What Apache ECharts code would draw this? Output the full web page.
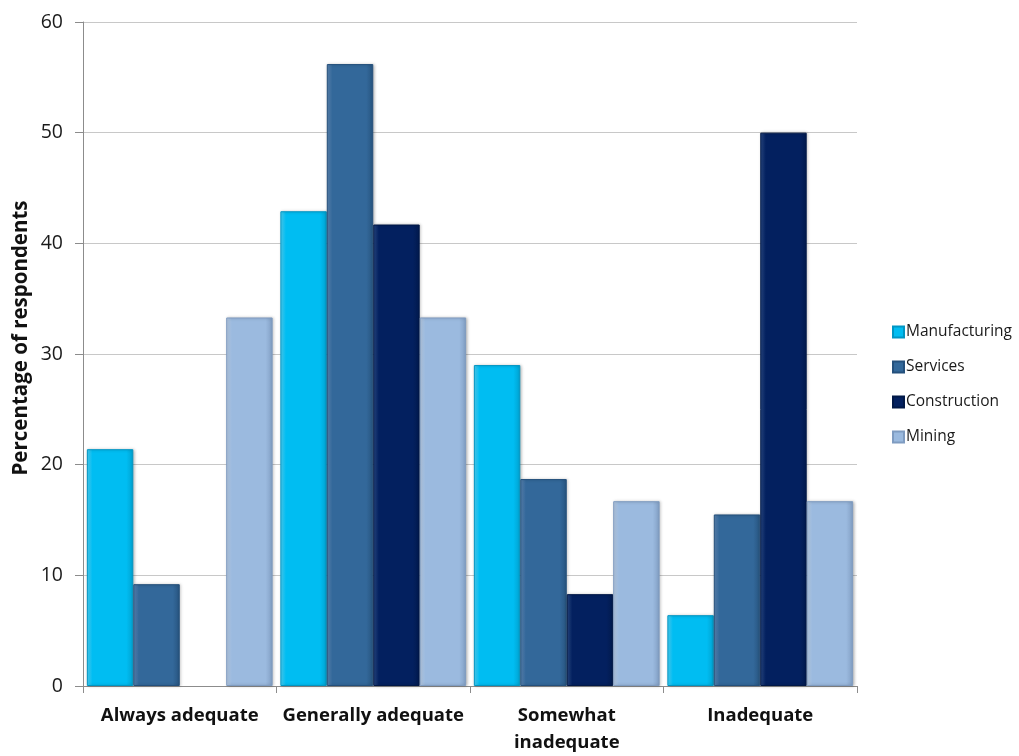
<!DOCTYPE html>
<html>
<head>
<meta charset="utf-8">
<script src="https://cdn.jsdelivr.net/npm/echarts@6/dist/echarts.min.js"></script>
<style>
  html, body { margin: 0; padding: 0; background: #fff; }
  #chart { width: 1019px; height: 756px; }
</style>
</head>
<body>
<div id="chart"></div>
<script>
// Adequacy ratings by industry sector (percentage of respondents)
const categories = ['Always adequate', 'Generally adequate', 'Somewhat\ninadequate', 'Inadequate'];
const manufacturing = [21.4, 42.9, 29.0, 6.4];
const services = [9.2, 56.2, 18.7, 15.5];
const construction = [0, 41.7, 8.3, 50.0];
const mining = [33.3, 33.3, 16.7, 16.7];
const yTicks = [0, 10, 20, 30, 40, 50, 60];
const yTitle = 'Percentage of respondents';

const FONT = '"Open Sans", Lato, sans-serif';

// Horizontal shading gives each bar a slightly rounded, raised look
function barFill(light, base, dark) {
  return new echarts.graphic.LinearGradient(0, 0, 1, 0, [
    { offset: 0, color: light },
    { offset: 0.12, color: base },
    { offset: 0.85, color: base },
    { offset: 1, color: dark }
  ]);
}

function barSeries(name, data, light, base, dark, edge) {
  return {
    name: name,
    type: 'bar',
    // zero-height bars draw nothing at all
    data: data.map(v => v === 0 ? { value: v, itemStyle: { opacity: 0 } } : v),
    barGap: '0%',
    barCategoryGap: '4%',
    itemStyle: {
      color: barFill(light, base, dark),
      borderColor: edge,
      borderWidth: 1,
      shadowColor: 'rgba(0,0,0,0.25)',
      shadowBlur: 3,
      shadowOffsetX: 1,
      shadowOffsetY: 0
    },
    emphasis: { disabled: true }
  };
}

const chart = echarts.init(document.getElementById('chart'), null, { renderer: 'canvas' });

chart.setOption({
  backgroundColor: '#ffffff',
  animation: false,
  textStyle: { fontFamily: FONT },
  grid: { left: 83, right: 162, top: 22, bottom: 68, containLabel: false },
  legend: {
    orient: 'vertical',
    left: 887,
    top: 316,
    itemWidth: 11,
    itemHeight: 11,
    itemGap: 13,
    icon: 'rect',
    textStyle: { fontFamily: FONT, fontSize: 15.5, color: '#1a1a1a', padding: [0, 0, 0, -3], lineHeight: 22 },
    data: ['Manufacturing', 'Services', 'Construction', 'Mining']
  },
  graphic: [{
    type: 'text',
    x: 21,
    y: 338,
    rotation: Math.PI / 2,
    style: {
      text: yTitle,
      fontFamily: FONT,
      fontSize: 20.5,
      fontWeight: 'bold',
      fill: '#111',
      align: 'center',
      verticalAlign: 'middle'
    }
  }],
  xAxis: {
    type: 'category',
    data: categories,
    axisLine: { show: true, lineStyle: { color: '#8c8c8c', width: 1 } },
    axisTick: { show: true, alignWithLabel: false, length: 7, lineStyle: { color: '#8c8c8c' } },
    axisLabel: {
      fontFamily: FONT,
      fontSize: 18.5,
      fontWeight: 'bold',
      color: '#111',
      margin: 16,
      lineHeight: 27,
      interval: 0
    }
  },
  yAxis: {
    type: 'value',
    min: yTicks[0],
    max: yTicks[yTicks.length - 1],
    interval: 10,
    axisLine: { show: true, lineStyle: { color: '#8c8c8c', width: 1 } },
    axisTick: { show: true, inside: false, length: 8, lineStyle: { color: '#8c8c8c' } },
    axisLabel: { fontFamily: FONT, fontSize: 19.5, color: '#1a1a1a', margin: 20 },
    splitLine: { show: true, lineStyle: { color: '#c8c8c8', width: 1 } }
  },
  series: [
    barSeries('Manufacturing', manufacturing, '#4fd6fb', '#00bdf2', '#00a2d0', '#0096c4'),
    barSeries('Services', services, '#5d87b5', '#33689a', '#27547f', '#24507c'),
    barSeries('Construction', construction, '#2a4a86', '#03205f', '#021a4d', '#011847'),
    barSeries('Mining', mining, '#bcd0e8', '#9bbadf', '#829fc4', '#7f9cc1')
  ]
});
</script>
</body>
</html>
